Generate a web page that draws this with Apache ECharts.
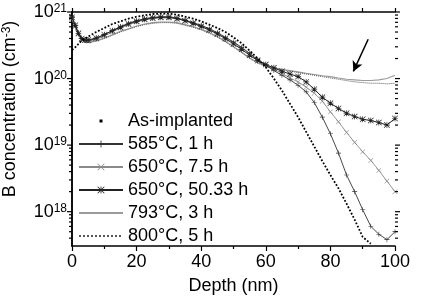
<!DOCTYPE html>
<html>
<head>
<meta charset="utf-8">
<script src="https://cdn.jsdelivr.net/npm/echarts@6/dist/echarts.min.js"></script>
<style>
html,body{margin:0;padding:0;background:#fff;}
#chart{width:438px;height:300px;}
</style>
</head>
<body>
<div id="chart"></div>
<script>
// ---- data (depth in nm, concentration in cm^-3) ----
var depth = [0,1,2,3,4,5,7.5,10,12.5,15,17.5,20,22.5,25,27.5,30,32.5,35,37.5,40,42.5,45,47.5,50,52.5,55,57.5,60,62.5,65,67.5,70,72.5,75,77.5,80,82.5,85,87.5,90,92.5,95,97.5,100];

var asImplanted = [2.69e20,2.95e20,3.31e20,3.72e20,3.98e20,4.27e20,5.01e20,5.75e20,6.61e20,7.24e20,7.94e20,8.51e20,8.91e20,9.33e20,9.44e20,9.44e20,9.12e20,8.51e20,7.94e20,7.24e20,6.46e20,5.75e20,5.01e20,4.17e20,3.39e20,2.63e20,2.0e20,1.48e20,1.0e20,6.61e19,4.17e19,2.63e19,1.58e19,9.55e18,5.75e18,3.55e18,2.24e18,1.32e18,7.59e17,4.17e17,3.3e17,null,null,null];

var t585_1h = [8.51e20,6.31e20,4.79e20,3.98e20,3.72e20,3.72e20,3.98e20,4.57e20,5.25e20,6.03e20,6.76e20,7.41e20,7.94e20,8.32e20,8.51e20,8.51e20,8.13e20,7.59e20,6.92e20,6.31e20,5.62e20,4.90e20,4.17e20,3.55e20,2.95e20,2.40e20,1.91e20,1.58e20,1.32e20,1.12e20,9.55e19,7.94e19,6.31e19,4.37e19,2.63e19,1.48e19,7.59e18,3.55e18,2.0e18,1.07e18,6.03e17,4.57e17,3.80e17,5.01e17];

var t650_7h = [7.94e20,6.03e20,4.68e20,3.98e20,3.72e20,3.63e20,3.89e20,4.37e20,5.01e20,5.75e20,6.46e20,7.08e20,7.59e20,7.94e20,8.13e20,8.13e20,7.94e20,7.41e20,6.76e20,6.17e20,5.50e20,4.79e20,4.07e20,3.47e20,2.88e20,2.34e20,1.91e20,1.62e20,1.38e20,1.20e20,1.02e20,8.91e19,7.41e19,6.03e19,4.57e19,3.16e19,2.24e19,1.55e19,1.10e19,7.94e18,5.89e18,4.17e18,2.88e18,2.0e18];

var t650_50h = [8.32e20,6.31e20,4.79e20,3.98e20,3.80e20,3.80e20,4.07e20,4.57e20,5.25e20,5.89e20,6.61e20,7.24e20,7.76e20,8.13e20,8.32e20,8.32e20,7.94e20,7.41e20,6.76e20,6.03e20,5.37e20,4.68e20,3.98e20,3.31e20,2.75e20,2.24e20,1.86e20,1.62e20,1.45e20,1.29e20,1.17e20,1.07e20,8.91e19,6.92e19,5.25e19,4.27e19,3.55e19,3.02e19,2.69e19,2.45e19,2.34e19,2.19e19,2.0e19,2.51e19];

var t793_3h = [7.94e20,6.03e20,4.57e20,3.80e20,3.55e20,3.47e20,3.72e20,4.07e20,4.57e20,5.13e20,5.62e20,6.17e20,6.61e20,6.92e20,7.08e20,7.08e20,6.92e20,6.46e20,6.03e20,5.50e20,4.90e20,4.27e20,3.63e20,3.02e20,2.51e20,2.04e20,1.74e20,1.55e20,1.45e20,1.38e20,1.32e20,1.26e20,1.20e20,1.15e20,1.10e20,1.07e20,1.02e20,9.77e19,9.55e19,9.33e19,9.33e19,9.55e19,1.0e20,1.12e20];

var t800_5h = [7.59e20,5.75e20,4.47e20,3.80e20,3.55e20,3.47e20,3.63e20,3.98e20,4.47e20,5.01e20,5.50e20,6.03e20,6.46e20,6.76e20,6.92e20,6.92e20,6.76e20,6.31e20,5.89e20,5.37e20,4.79e20,4.17e20,3.55e20,2.95e20,2.45e20,2.0e20,1.70e20,1.51e20,1.41e20,1.35e20,1.29e20,1.23e20,1.17e20,1.12e20,1.07e20,1.02e20,9.77e19,9.33e19,8.91e19,8.71e19,8.51e19,8.51e19,8.32e19,8.51e19];

var seriesNames = ['As-implanted','585°C, 1 h','650°C, 7.5 h','650°C, 50.33 h','793°C, 3 h','800°C, 5 h'];

// axis ticks
var xMajorTicks = [0,20,40,60,80,100];
var yMajorTicks = [1e18,1e19,1e20,1e21];
var yMinorTicks = [4e17,5e17,6e17,7e17,8e17,9e17,
  2e18,3e18,4e18,5e18,6e18,7e18,8e18,9e18,
  2e19,3e19,4e19,5e19,6e19,7e19,8e19,9e19,
  2e20,3e20,4e20,5e20,6e20,7e20,8e20,9e20];
var yMin = 3.05e17, yMax = 1e21;

// arrow annotation (data coordinates)
var arrowFrom = [91.7, 3.9e20];
var arrowTo = [87.1, 1.28e20];

function pairs(ys){ return depth.map(function(x,i){ return [x, ys[i]]; }); }

var FONT = '"Liberation Sans", Arial, sans-serif';
var PLUS = 'path://M4.4,0H5.6V4.4H10V5.6H5.6V10H4.4V5.6H0V4.4H4.4Z';
var CROSS = 'path://M0.8,0L5,4.2L9.2,0L10,0.8L5.8,5L10,9.2L9.2,10L5,5.8L0.8,10L0,9.2L4.2,5L0,0.8Z';
var STAR = 'path://M4.45,0H5.55V10H4.45Z M0,4.45H10V5.55H0Z M0.8,0L10,9.2L9.2,10L0,0.8Z M9.2,0L10,0.8L0.8,10L0,9.2Z';
var DOT = 'path://M0,0L0,0M44,9L44,9M20.5,3H23.5V6H20.5Z';

var tickData = yMajorTicks.map(function(v){return [0, v, 5];})
  .concat(yMinorTicks.map(function(v){return [0, v, 3];}));

var chart = echarts.init(document.getElementById('chart'), null, {renderer:'canvas'});
chart.setOption({
  animation: false,
  backgroundColor: '#fff',
  textStyle: {fontFamily: FONT},
  grid: {left: 72, right: 43, top: 12, bottom: 51, containLabel: false},
  legend: {
    orient: 'vertical', left: 78, top: 112, itemWidth: 44, itemHeight: 9, itemGap: 5,
    padding: 0, selectedMode: false,
    textStyle: {fontSize: 18, color: '#000', fontFamily: FONT},
    data: [
      {name: seriesNames[0], icon: DOT},
      {name: seriesNames[1]},
      {name: seriesNames[2]},
      {name: seriesNames[3]},
      {name: seriesNames[4], itemStyle: {opacity: 0}},
      {name: seriesNames[5], itemStyle: {opacity: 0}}
    ]
  },
  xAxis: [{
    type: 'value', min: 0, max: 100, interval: 20, position: 'bottom',
    name: 'Depth (nm)', nameLocation: 'middle', nameGap: 31,
    nameTextStyle: {fontSize: 18, color: '#000', fontFamily: FONT},
    axisLine: {show: true, lineStyle: {color: '#000', width: 1.5}},
    axisTick: {show: true, inside: false, length: 5, lineStyle: {color: '#000', width: 1.2}},
    minorTick: {show: true, splitNumber: 2, length: 3, lineStyle: {color: '#000', width: 1.2}},
    axisLabel: {fontSize: 18, color: '#000', margin: 7, fontFamily: FONT},
    splitLine: {show: false}
  }, {
    type: 'value', min: 0, max: 100, interval: 10, position: 'top',
    axisLine: {show: true, lineStyle: {color: '#000', width: 1.5}},
    axisTick: {show: true, inside: false, length: 4, lineStyle: {color: '#000', width: 1.2}},
    axisLabel: {show: false}, splitLine: {show: false}
  }],
  yAxis: [{
    type: 'log', logBase: 10, min: yMin, max: yMax, position: 'left',
    axisLine: {show: true, lineStyle: {color: '#000', width: 1.5}},
    axisTick: {show: false}, splitLine: {show: false}, minorTick: {show: false},
    axisLabel: {
      interval: 0, margin: 5, color: '#000', fontFamily: FONT,
      formatter: function(v){
        var e = Math.log10(v), r = Math.round(e);
        if (Math.abs(e - r) > 1e-6) return '';
        return '{b|10}{s|' + r + '}';
      },
      rich: {
        b: {fontSize: 18, lineHeight: 18, verticalAlign: 'bottom', color: '#000', fontFamily: FONT},
        s: {fontSize: 12, lineHeight: 12, verticalAlign: 'top', padding: [0,0,10,0], color: '#000', fontFamily: FONT}
      }
    }
  }, {
    type: 'log', logBase: 10, min: yMin, max: yMax, position: 'right',
    axisLine: {show: true, lineStyle: {color: '#000', width: 1.5}},
    axisTick: {show: false}, axisLabel: {show: false}, splitLine: {show: false}
  }],
  graphic: [{
    type: 'text', x: 10, y: 109, rotation: Math.PI / 2,
    style: {
      text: '{a|B concentration (cm}{s|-3}{a|)}',
      align: 'center', verticalAlign: 'middle', fill: '#000',
      rich: {
        a: {fontSize: 18, lineHeight: 18, fontFamily: FONT, fill: '#000', verticalAlign: 'bottom'},
        s: {fontSize: 12, lineHeight: 12, fontFamily: FONT, fill: '#000', verticalAlign: 'top'}
      }
    }
  }],
  series: [
    {
      name: seriesNames[4], type: 'line', data: pairs(t793_3h), showSymbol: false, symbol: 'none',
      lineStyle: {color: '#9a9a9a', width: 1.1}, itemStyle: {color: '#9a9a9a'}, z: 2,
      markLine: {
        silent: true, symbol: ['none', 'arrow'], symbolSize: [8, 10],
        label: {show: false},
        lineStyle: {color: '#000', width: 1.5, type: 'solid'},
        data: [[{coord: arrowFrom}, {coord: arrowTo}]]
      }
    },
    {
      name: seriesNames[5], type: 'line', data: pairs(t800_5h), showSymbol: false, symbol: 'none',
      lineStyle: {color: '#555', width: 1, type: 'dotted'}, itemStyle: {color: '#555'}, z: 2
    },
    {
      name: seriesNames[2], type: 'line', data: pairs(t650_7h), symbol: CROSS, symbolSize: 5,
      lineStyle: {color: '#8a8a8a', width: 0.9}, itemStyle: {color: '#8a8a8a'}, z: 3
    },
    {
      name: seriesNames[1], type: 'line', data: pairs(t585_1h), symbol: PLUS, symbolSize: 5,
      lineStyle: {color: '#333', width: 0.9}, itemStyle: {color: '#333'}, z: 4
    },
    {
      name: seriesNames[3], type: 'line', data: pairs(t650_50h), symbol: STAR, symbolSize: 6,
      lineStyle: {color: '#222', width: 1}, itemStyle: {color: '#222'}, z: 5
    },
    {
      name: seriesNames[0], type: 'line', data: pairs(asImplanted), showSymbol: false, symbol: 'circle',
      lineStyle: {color: '#000', width: 1.8, type: 'dotted'}, itemStyle: {color: '#000'}, z: 6
    },
    {
      type: 'custom', silent: true, data: tickData, z: 10,
      renderItem: function(params, api){
        var v = api.value(1), len = api.value(2);
        var pL = api.coord([0, v]);
        var pR = api.coord([100, v]);
        return {type: 'group', children: [
          {type: 'line', shape: {x1: pL[0] - len, y1: pL[1], x2: pL[0], y2: pL[1]}, style: {stroke: '#000', lineWidth: 1.2}},
          {type: 'line', shape: {x1: pR[0], y1: pR[1], x2: pR[0] + len, y2: pR[1]}, style: {stroke: '#000', lineWidth: 1.2}}
        ]};
      }
    }
  ]
});
</script>
</body>
</html>
